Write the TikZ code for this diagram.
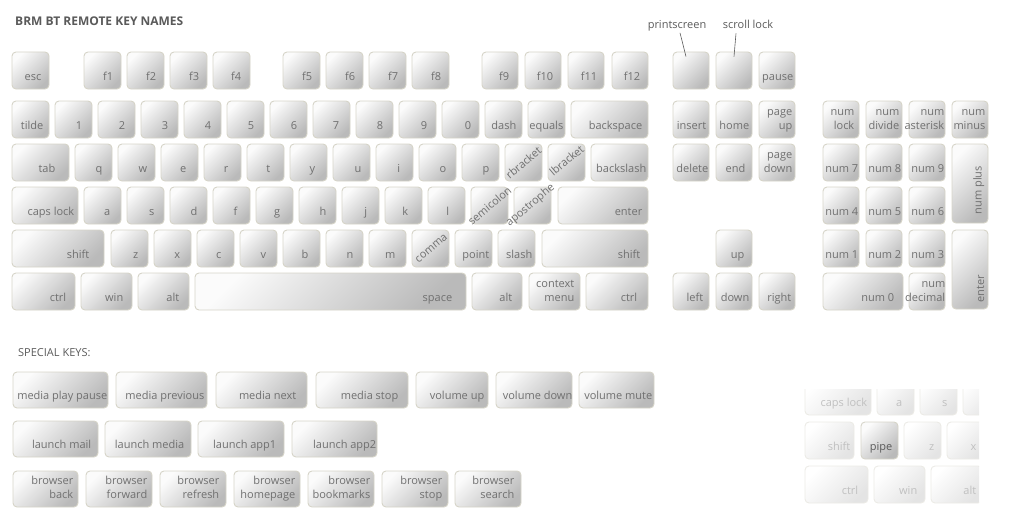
\documentclass[tikz,border=0pt]{standalone}
\usepackage{fontspec}
\setmainfont{Open Sans}
\definecolor{keytext}{RGB}{112,112,112}
\definecolor{keyline}{RGB}{214,212,200}
\definecolor{keytop}{RGB}{251,251,251}
\definecolor{keybot}{RGB}{186,186,186}
\definecolor{fadeline}{RGB}{236,235,230}
\definecolor{fadebot}{RGB}{228,228,228}
\definecolor{fadetext}{RGB}{192,192,192}
\definecolor{headtext}{RGB}{90,90,90}
\newcommand\kbfont{\fontsize{11}{14}\selectfont}

\begin{document}
\begin{tikzpicture}[x=1pt, y=-1pt,
  keycap/.style={draw=keyline, line width=0.9pt, rounded corners=4pt,
    top color=keytop, bottom color=keybot, shading angle=45,
    inner sep=0pt, minimum height=37pt},
  fadecap/.style={keycap, draw=fadeline, top color=white,
    bottom color=fadebot, shading angle=45},
  keylbl/.style={anchor=south east, inner sep=0pt, xshift=-#1, yshift=5pt,
    text=keytext, font=\kbfont, align=right, execute at end node=\strut},
  keylbl/.default=7,
  slantlbl/.style={rotate=40, inner sep=0pt, text=keytext, font=\kbfont},
  uplbl/.style={rotate=90, anchor=south west, inner sep=0pt, text=keytext, font=\kbfont},
  heading/.style={anchor=base west, inner sep=0pt, text=headtext, font=\fontsize{11}{13}\selectfont},
  callout/.style={anchor=base, inner sep=0pt, text=headtext, font=\kbfont},
  leader/.style={draw=headtext, line width=0.6pt}]
\useasboundingbox (0,0) rectangle (1024,527);

% ---- headings
\node[heading, font=\fontsize{12}{14}\selectfont\bfseries] (title) at (15,26) {BRM BT REMOTE KEY NAMES};
\node[heading] (special) at (18,356) {SPECIAL KEYS:};

% ---- main block, function row to bottom row
\foreach \nm/\a/\b/\y/\p/\lbl in {
  esc/12/49/70.5/8/esc, f1/84/121/70.5/8/f1, f2/127/164/70.5/8/f2, f3/170/207/70.5/8/f3,
  f4/213/250/70.5/9/f4, f5/283/320/70.5/8/f5, f6/326/363/70.5/8/f6, f7/369/406/70.5/8/f7,
  f8/412/449/70.5/8/f8, f9/482/518/70.5/9/f9, f10/525/561/70.5/8/f10, f11/568/604/70.5/7/f11,
  f12/612/648/70.5/8/f12, pause/759/795/70.5/2/pause,
  tilde/12/49/119.5/6/tilde, n1/55/92/119.5/10/1, n2/98/135/119.5/10/2, n3/141/178/119.5/10/3,
  n4/184/221/119.5/10/4, n5/227/264/119.5/10/5, n6/270/307/119.5/10/6, n7/313/350/119.5/11/7,
  n8/356/393/119.5/10/8, n9/399/436/119.5/9/9, n0/442/479/119.5/8/0, dash/485/522/119.5/6/dash,
  equals/528/565/119.5/2/equals, bksp/571/648/119.5/6/backspace,
  tab/12/69/162.5/14/tab, q/75/112/162.5/10/q, w/118/155/162.5/8/w, e/161/198/162.5/12/e,
  r/204/241/162.5/13/r, t/247/284/162.5/14/t, y/290/327/162.5/12/y, u/333/370/162.5/9/u,
  i/376/413/162.5/13/i, o/419/456/162.5/10/o, p/462/499/162.5/10/p,
  bksl/591/648/162.5/2/backslash,
  caps/12/78/205.5/4/caps lock, a/84/121/205.5/11/a, s/127/164/205.5/10/s, d/170/207/205.5/10/d,
  f/213/250/205.5/13/f, g/256/293/205.5/13/g, h/299/336/205.5/10/h, j/342/379/205.5/12/j,
  k/385/422/205.5/14/k, l/428/465/205.5/16/l,
  enter/558/648/205.5/6/enter,
  lshift/12/104/248.5/15/shift, z/111/148/248.5/10/z, x/154/191/248.5/11/x, c/197/234/248.5/13/c,
  v/240/277/248.5/11/v, b/283/320/248.5/12/b, n/326/363/248.5/10/n, m/369/406/248.5/11/m,
  point/455/492/248.5/3/point, slash/498/535/248.5/3/slash,
  rshift/542/648/248.5/8/shift,
  lctrl/12/75/291.5/9/ctrl, lwin/81/132/291.5/9/win, lalt/138/189/291.5/10/alt,
  space/195/466/291.5/14/space, ralt/472/522/291.5/10/alt, ctx/529/580/291.5/6/{context\\menu},
  rctrl/586/648/291.5/11/ctrl}{
  \node[keycap, minimum width=\b-\a] (\nm) at ({(\a+\b)/2},\y) {};
  \node[keylbl=\p] (\nm-t) at (\nm.south east) {\lbl};
}
% keys with slanted or no label
\foreach \nm/\a/\b/\y in {prtsc/673/709/70.5, scrlk/716/752/70.5, rbr/505/542/162.5,
  lbr/548/585/162.5, semi/471/508/205.5, apos/514/551/205.5, comma/412/449/248.5}
  \node[keycap, minimum width=\b-\a] (\nm) at ({(\a+\b)/2},\y) {};
\node[slantlbl] (rbr-s) at (rbr.center) {rbracket};
\node[slantlbl] (lbr-s) at ([yshift=2pt]lbr.center) {lbracket};
\node[slantlbl] (semi-s) at (semi.center) {semicolon};
\node[slantlbl] (apos-s) at ([xshift=-2pt]apos.center) {apostrophe};
\node[slantlbl] (comma-s) at ([xshift=1pt]comma.center) {comma};

% ---- navigation block and numpad
\foreach \nm/\a/\b/\y/\p/\lbl in {
  ins/673/709/119.5/3/insert, home/716/752/119.5/3/home, pgup/759/795/119.5/3/{page\\up},
  del/673/709/162.5/1/delete, end/716/752/162.5/7/end, pgdn/759/795/162.5/3/{page\\down},
  up/716/752/248.5/8/up,
  left/673/709/291.5/6/left, down/716/752/291.5/3/down, right/759/795/291.5/4/right,
  numlk/823/859/119.5/5/{num\\lock}, numdiv/866/902/119.5/3/{num\\divide},
  numast/909/945/119.5/1/{num\\asterisk}, numsub/952/988/119.5/3/{num\\minus},
  np7/823/859/162.5/1/num 7, np8/866/902/162.5/1/num 8, np9/909/945/162.5/1/num 9,
  np4/823/859/205.5/1/num 4, np5/866/902/205.5/1/num 5, np6/909/945/205.5/1/num 6,
  np1/823/859/248.5/1/num 1, np2/866/902/248.5/1/num 2, np3/909/945/248.5/1/num 3,
  np0/823/903/291.5/9/num 0, npdec/909/945/291.5/0/{num\\decimal}}{
  \node[keycap, minimum width=\b-\a] (\nm) at ({(\a+\b)/2},\y) {};
  \node[keylbl=\p] (\nm-t) at (\nm.south east) {\lbl};
}
\node[keycap, minimum width=36, minimum height=79] (numplus) at (970,183.5) {};
\node[uplbl] (numplus-t) at ([xshift=-4pt,yshift=9pt]numplus.south east) {num plus};
\node[keycap, minimum width=36, minimum height=79] (numenter) at (970,269.5) {};
\node[uplbl] (numenter-t) at ([xshift=-4pt,yshift=7pt]numenter.south east) {enter};

% ---- callouts for the two unlabelled keys
\node[callout] (prtsc-c) at (677,29) {printscreen};
\node[callout] (scrlk-c) at (748,29) {scroll lock};
\draw[leader] ([xshift=3pt,yshift=-1pt]prtsc-c.south) -- ([xshift=-5pt,yshift=-5pt]prtsc.north);
\draw[leader] ([xshift=-12pt,yshift=-4pt]scrlk-c.south) -- ([yshift=-5pt]scrlk.north);

% ---- special keys
\foreach \nm/\a/\b/\y/\p/\lbl in {
  mplay/13/108/390/1/media play pause, mprev/116/207/390/3/media previous,
  mnext/216/307/390/11/media next, mstop/316/408/390/10/media stop,
  volup/416/488/390/4/volume up, voldn/496/572/390/0/volume down, volmute/579/654/390/2/volume mute,
  lmail/13/98/439/7/launch mail, lmedia/105/191/439/7/launch media,
  lapp1/198/284/439/8/launch app1, lapp2/292/377/439/1/launch app2,
  bback/13/78/489/5/{browser\\back}, bfwd/86/152/489/5/{browser\\forward},
  brefr/160/226/489/7/{browser\\refresh}, bhome/234/300/489/5/{browser\\homepage},
  bbook/308/374/489/4/{browser\\bookmarks}, bstop/382/448/489/6/{browser\\stop},
  bsrch/455/521/489/7/{browser\\search}}{
  \node[keycap, minimum width=\b-\a, minimum height=36] (\nm) at ({(\a+\b)/2},\y) {};
  \node[keylbl=\p] (\nm-t) at (\nm.south east) {\lbl};
}

% ---- faded keyboard crop with the pipe key
\begin{scope}
  \clip (800,389) rectangle (979,515);
  \foreach \nm/\a/\b/\y/\p/\lbl in {
    fcaps/805/871/396.5/4/caps lock, fa/877/914/396.5/12/a, fs/920/957/396.5/10/s,
    fshift/805/854/440.5/4/shift, fz/904/941/440.5/7/z,
    fx/947/984/440.5/8/x, fctrl/805/868/484.5/10/ctrl, fwin/874/925/484.5/8/win,
    falt/931/982/484.5/6/alt}{
    \node[fadecap, minimum width=\b-\a] (\nm) at ({(\a+\b)/2},\y) {};
    \node[keylbl=\p, text=fadetext] (\nm-t) at (\nm.south east) {\lbl};
  }
  \node[fadecap, minimum width=37] (fd) at (981.5,396.5) {};
  \node[keycap, minimum width=37] (pipe) at (879.5,440.5) {};
  \node[keylbl=6, text=headtext] (pipe-t) at (pipe.south east) {pipe};
\end{scope}
\end{tikzpicture}
\end{document}
